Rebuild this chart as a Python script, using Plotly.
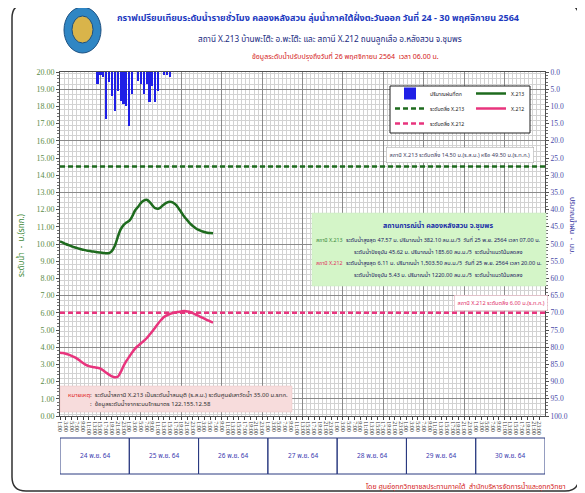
import plotly.graph_objects as go

# ---------------- data ----------------
days = ["24 พ.ย. 64", "25 พ.ย. 64", "26 พ.ย. 64", "27 พ.ย. 64",
        "28 พ.ย. 64", "29 พ.ย. 64", "30 พ.ย. 64"]
tick_hours = ["1:00", "3:00", "5:00", "7:00", "9:00", "11:00",
              "13:00", "15:00", "17:00", "19:00", "21:00", "23:00"]

# hourly water level (m), from 24 Nov 01:00 to 26 Nov 06:00
x213_level = [10.15, 10.08, 10.00, 9.93, 9.87, 9.81, 9.76, 9.71, 9.67, 9.63,
              9.60, 9.57, 9.55, 9.52, 9.50, 9.48, 9.46, 9.47, 9.60, 9.90,
              10.40, 10.85, 11.10, 11.25, 11.35, 11.60, 11.95, 12.15, 12.38, 12.52,
              12.57, 12.45, 12.25, 12.08, 12.05, 12.15, 12.30, 12.40, 12.45, 12.42,
              12.30, 12.10, 11.85, 11.60, 11.40, 11.20, 11.05, 10.92, 10.82, 10.75,
              10.70, 10.66, 10.64, 10.62]
x212_level = [3.68, 3.66, 3.62, 3.57, 3.50, 3.42, 3.32, 3.20, 3.08, 2.97,
              2.90, 2.86, 2.83, 2.80, 2.76, 2.65, 2.52, 2.40, 2.30, 2.25,
              2.28, 2.55, 2.90, 3.20, 3.45, 3.70, 3.92, 4.08, 4.22, 4.36,
              4.52, 4.72, 4.93, 5.15, 5.38, 5.58, 5.75, 5.85, 5.93, 5.98,
              6.02, 6.05, 6.08, 6.11, 6.08, 6.05, 5.98, 5.90, 5.82, 5.74,
              5.66, 5.58, 5.50, 5.43]
# hourly rainfall (mm)
rain_mm = [0, 0, 0, 0, 0, 0, 0, 0, 0, 0,
           0, 0, 0, 3.5, 1.0, 1.5, 13.7, 3.0, 7.0, 11.3,
           5.4, 8.4, 9.3, 10.0, 15.7, 6.4, 0, 2.5, 3.5, 6.4,
           3.5, 8.8, 4.0, 8.8, 5.5, 0, 1.0, 1.0, 1.5, 0,
           0, 0, 0, 0, 0, 0, 0, 0, 0, 0,
           0, 0, 0, 0]
bank_x213 = 14.50
bank_x212 = 6.00
left_ticks = list(range(0, 21))
right_ticks = list(range(0, 101, 5))

total_hours = len(days) * 24
hours = list(range(len(x213_level)))
tick_pos = [d * 24 + i * 2 for d in range(len(days)) for i in range(len(tick_hours))]
tick_txt = [t for d in range(len(days)) for t in tick_hours]

# ---------------- layout helpers ----------------
# page body has an 8px margin, so the figure is 8px smaller and all
# reference-pixel positions are converted relative to the plot area
W, H = 577, 485
L, R, T, B = 52, 40, 64, 77
PW, PH = W - L - R, H - T - B
def px(x): return (x - 60) / PW
def py(y): return (416 - y) / PH

THAI = "Noto Sans Thai, Tahoma, Loma, Garuda, Liberation Sans, sans-serif"
NUM = "Liberation Serif, serif"
GREEN = "#1e6b1e"
PINK = "#e8347d"
BLUE = "#1f1fe6"

fig = go.Figure()
fig.add_trace(go.Bar(x=hours, y=rain_mm, yaxis="y2", width=0.75,
                     marker=dict(color=BLUE, line=dict(width=0)),
                     name="ปริมาณฝนที่ตก", legend="legend"))
fig.add_trace(go.Scatter(x=hours, y=x213_level, mode="lines", name="X.213",
                         line=dict(color=GREEN, width=2.5, shape="spline"), legend="legend"))
fig.add_trace(go.Scatter(x=[0, total_hours], y=[bank_x213, bank_x213], mode="lines",
                         name="ระดับตลิ่ง X.213",
                         line=dict(color=GREEN, width=2.5, dash="5px,3px"), legend="legend2"))
fig.add_trace(go.Scatter(x=hours, y=x212_level, mode="lines", name="X.212",
                         line=dict(color=PINK, width=2.5, shape="spline"), legend="legend2"))
fig.add_trace(go.Scatter(x=[0, total_hours], y=[bank_x212, bank_x212], mode="lines",
                         name="ระดับตลิ่ง X.212",
                         line=dict(color=PINK, width=2.5, dash="5px,3px"), legend="legend3"))
# carrier for the graph-paper grid axes
fig.add_trace(go.Scatter(x=[None], y=[None], xaxis="x2", yaxis="y3",
                         showlegend=False, hoverinfo="skip"))

legend_common = dict(xanchor="left", yanchor="top", orientation="h",
                     bgcolor="rgba(0,0,0,0)", borderwidth=0, itemwidth=30,
                     entrywidth=36, entrywidthmode="pixels",
                     font=dict(family=THAI, size=5.2, color="#202020"))

fig.update_layout(
    width=W, height=H, autosize=False,
    margin=dict(l=L, r=R, t=T, b=B),
    paper_bgcolor="white", plot_bgcolor="white",
    bargap=0, showlegend=True,
    xaxis=dict(range=[0, total_hours], tickmode="array", tickvals=tick_pos, ticktext=tick_txt,
               tickangle=90, tickfont=dict(family=NUM, size=6, color="#303030"),
               ticks="outside", ticklen=3, tickcolor="#404040",
               showgrid=False, zeroline=False, showline=True, linecolor="#505050",
               mirror=True),
    xaxis2=dict(range=[0, total_hours], overlaying="x", anchor="y", showticklabels=False,
                ticks="", tick0=0, dtick=14, showgrid=True, gridcolor="#8a8a8a", gridwidth=1,
                minor=dict(tick0=0, dtick=1.4, showgrid=True, gridcolor="#d2d2d2", gridwidth=0.6),
                zeroline=False, showline=False),
    yaxis=dict(range=[0, 20], tickmode="array", tickvals=left_ticks,
               ticktext=[f"{v:.2f}" for v in left_ticks],
               tickfont=dict(family=NUM, size=8, color="#5b8c46"),
               ticks="outside", ticklen=3, tickcolor="#505050",
               minor=dict(dtick=0.2, ticks="outside", ticklen=2, tickcolor="#707070"),
               showgrid=False, zeroline=False, showline=True, linecolor="#505050"),
    yaxis2=dict(range=[100, 0], overlaying="y", side="right", tickmode="array",
                tickvals=right_ticks, ticktext=[f"{v:.1f}" for v in right_ticks],
                tickfont=dict(family=NUM, size=7.5, color="#4a4aa8"),
                ticks="outside", ticklen=3, tickcolor="#505050",
                minor=dict(dtick=1, ticks="outside", ticklen=2, tickcolor="#707070"),
                showgrid=False, zeroline=False, showline=True, linecolor="#505050"),
    yaxis3=dict(range=[0, 20], overlaying="y", anchor="x", showticklabels=False, ticks="",
                tick0=1, dtick=3, showgrid=True, gridcolor="#8a8a8a", gridwidth=1,
                minor=dict(tick0=1, dtick=0.3, showgrid=True, gridcolor="#d2d2d2", gridwidth=0.6),
                zeroline=False, showline=False),
    legend=dict(x=px(390), y=py(79), **legend_common),
    legend2=dict(x=px(390), y=py(94), **legend_common),
    legend3=dict(x=px(390), y=py(109), **legend_common),
)

shapes = []
# outer rounded frame
x0, x1, y0, y1, r = 12, 579, 4, 491, 14
pts = [("M", x0 + r, y0), ("L", x1 - r, y0), ("Q", x1, y0, x1, y0 + r), ("L", x1, y1 - r),
       ("Q", x1, y1, x1 - r, y1), ("L", x0 + r, y1), ("Q", x0, y1, x0, y1 - r),
       ("L", x0, y0 + r), ("Q", x0, y0, x0 + r, y0)]
path = ""
for p in pts:
    if p[0] == "Q":
        path += f"Q{px(p[1]):.5f},{py(p[2]):.5f} {px(p[3]):.5f},{py(p[4]):.5f} "
    else:
        path += f"{p[0]}{px(p[1]):.5f},{py(p[2]):.5f} "
path += "Z"
shapes.append(dict(type="path", xref="paper", yref="paper", path=path,
                   line=dict(color="#303030", width=1.5), layer="below"))
# logo
shapes.append(dict(type="circle", xref="paper", yref="paper", x0=px(64), x1=px(101),
                   y0=py(53), y1=py(7), fillcolor="#2f86c4", line=dict(color="#1b4f80", width=1)))
shapes.append(dict(type="circle", xref="paper", yref="paper", x0=px(72), x1=px(93),
                   y0=py(43), y1=py(16), fillcolor="#d9b44a", line=dict(color="#1b4f80", width=1)))
# legend box
shapes.append(dict(type="rect", xref="paper", yref="paper", x0=px(390), x1=px(530),
                   y0=py(133), y1=py(86), fillcolor="white", line=dict(color="#202020", width=1),
                   layer="above"))
# info box
shapes.append(dict(type="rect", xref="paper", yref="paper", x0=px(312), x1=px(546),
                   y0=py(286), y1=py(213), fillcolor="#d4f5c8", line=dict(color="#c8e8c0", width=0.5),
                   layer="above"))
# note box
shapes.append(dict(type="rect", xref="paper", yref="paper", x0=px(60), x1=px(292),
                   y0=py(412), y1=py(386), fillcolor="#f7dcdc", line=dict(color="#e8c0c0", width=0.5),
                   layer="above"))
# date table
for i, d in enumerate(days):
    shapes.append(dict(type="rect", xref="x", yref="paper", x0=i * 24, x1=(i + 1) * 24,
                       y0=py(474), y1=py(438), line=dict(color="#2a3a80", width=1)))
fig.update_layout(shapes=shapes)

ann = []
def A(x, y, text, size, color, xanchor="left", bold=False, family=THAI, **kw):
    t = f"<b>{text}</b>" if bold else text
    ann.append(dict(xref="paper", yref="paper", x=px(x), y=py(y), text=t, showarrow=False,
                    xanchor=xanchor, yanchor="middle", font=dict(family=family, size=size, color=color), **kw))

A(318, 18, "กราฟเปรียบเทียบระดับน้ำรายชั่วโมง คลองหลังสวน ลุ่มน้ำภาคใต้ฝั่งตะวันออก วันที่ 24 - 30 พฤศจิกายน 2564",
  9, "#1d3ac0", xanchor="center", bold=True)
A(330, 39, "สถานี X.213 บ้านพะโต๊ะ อ.พะโต๊ะ และ สถานี X.212 ถนนลูกเสือ อ.หลังสวน จ.ชุมพร",
  8.2, "#1a2a80", xanchor="center")
A(345, 57, "ข้อมูลระดับน้ำปรับปรุงถึงวันที่ 26 พฤศจิกายน 2564  เวลา 06.00 น.", 7, "#d42020", xanchor="center")

# axis titles
A(21, 245, "ระดับน้ำ  -  ม.(รทก.)", 8, "#3f8a3a", xanchor="center", textangle=-90)
A(573, 225, "ปริมาณน้ำฝน  -  มม.", 7, "#3030a0", xanchor="center", textangle=90)

# bank annotations
ann.append(dict(xref="paper", yref="paper", x=px(460), y=py(155),
                text="สถานี X.213 ระดับตลิ่ง 14.50 ม.(ร.ส.ม.) หรือ 49.50 ม.(ร.ท.ก.)",
                showarrow=False, xanchor="center", yanchor="middle", bgcolor="white",
                bordercolor="#a0a0a0", borderwidth=0.5, borderpad=3,
                font=dict(family=THAI, size=5.6, color="#404060")))
ann.append(dict(xref="paper", yref="paper", x=px(501), y=py(303),
                text="สถานี X.212 ระดับตลิ่ง 6.00 ม.(ร.ท.ก.)",
                showarrow=False, xanchor="center", yanchor="middle", bgcolor="white",
                bordercolor="#e0a0b0", borderwidth=0.5, borderpad=3,
                font=dict(family=THAI, size=5.6, color="#e0306a")))

# info box text
NAVY = "#202060"
A(438, 225, "สถานการณ์น้ำ คลองหลังสวน จ.ชุมพร", 7, "#2030a8", xanchor="center", bold=True)
A(314, 240, "สถานี X.213", 5.3, "#3a8a3a")
A(314, 263, "สถานี X.212", 5.3, "#e03060")
A(344, 240, "ระดับน้ำสูงสุด 47.57 ม. ปริมาณน้ำ 382.10 ลบ.ม./วิ  วันที่ 25 พ.ย. 2564 เวลา 07.00 น.", 5.6, NAVY)
A(352, 252, "ระดับน้ำปัจจุบัน 45.62 ม. ปริมาณน้ำ 185.60 ลบ.ม./วิ  ระดับน้ำแนวโน้มลดลง", 5.6, NAVY)
A(344, 263, "ระดับน้ำสูงสุด 6.11 ม. ปริมาณน้ำ 1,503.50 ลบ.ม./วิ  วันที่ 25 พ.ย. 2564 เวลา 20.00 น.", 5.6, NAVY)
A(352, 275, "ระดับน้ำปัจจุบัน 5.43 ม. ปริมาณน้ำ 1220.00 ลบ.ม./วิ  ระดับน้ำแนวโน้มลดลง", 5.6, NAVY)

# note
A(66, 395, "หมายเหตุ", 6, "#e02020")
A(88, 395, ":  ระดับน้ำสถานี X.213 เป็นระดับน้ำสมมุติ (ร.ส.ม.) ระดับศูนย์เสาวัดน้ำ 35.00 ม.รทก.", 6, "#303030")
A(88, 404, ":  ข้อมูลระดับน้ำจากระบบโทรมาตร 122.155.12.58", 6, "#303030")

# date table labels
for i, d in enumerate(days):
    ann.append(dict(xref="x", yref="paper", x=i * 24 + 12, y=py(456), text=d, showarrow=False,
                    xanchor="center", yanchor="middle",
                    font=dict(family=THAI, size=6.5, color="#3a3ab0")))

# footer
A(568, 486, "โดย ศูนย์อุทกวิทยาชลประทานภาคใต้  สำนักบริหารจัดการน้ำและอุทกวิทยา", 7, "#d42020", xanchor="right")

fig.update_layout(annotations=ann)
fig.write_html("out.html")
